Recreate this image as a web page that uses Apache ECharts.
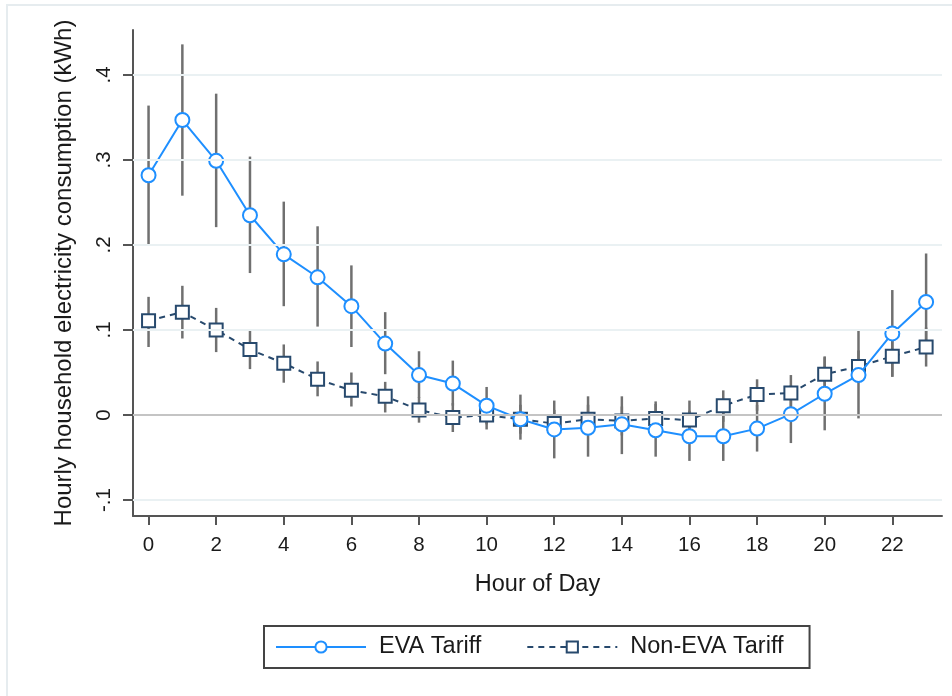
<!DOCTYPE html>
<html>
<head>
<meta charset="utf-8">
<title>Hourly household electricity consumption</title>
<script src="https://cdn.jsdelivr.net/npm/echarts@6/dist/echarts.min.js"></script>
<style>
  html, body { margin: 0; padding: 0; background: #fff; }
  #chart { width: 952px; height: 696px; }
</style>
</head>
<body>
<div id="chart"></div>
<script>
// Hour of day
const hours = [0, 1, 2, 3, 4, 5, 6, 7, 8, 9, 10, 11, 12, 13, 14, 15, 16, 17, 18, 19, 20, 21, 22, 23];

// EVA Tariff: point estimates and confidence bounds (kWh)
const evaMean = [0.282, 0.347, 0.299, 0.235, 0.189, 0.162, 0.128, 0.084, 0.047, 0.037, 0.011, -0.005,
                 -0.017, -0.015, -0.011, -0.018, -0.025, -0.025, -0.016, 0.001, 0.025, 0.047, 0.096, 0.133];
const evaLow  = [0.201, 0.258, 0.221, 0.167, 0.128, 0.104, 0.080, 0.048, 0.020, 0.011, -0.011, -0.029,
                 -0.051, -0.049, -0.046, -0.049, -0.054, -0.054, -0.043, -0.033, -0.018, -0.004, 0.045, 0.077];
const evaHigh = [0.364, 0.436, 0.378, 0.304, 0.251, 0.222, 0.176, 0.121, 0.075, 0.064, 0.033, 0.024,
                 0.017, 0.022, 0.022, 0.016, 0.005, 0.005, 0.012, 0.035, 0.068, 0.099, 0.147, 0.190];

// Non-EVA Tariff: point estimates and confidence bounds (kWh)
const nonMean = [0.111, 0.121, 0.100, 0.077, 0.061, 0.042, 0.029, 0.022, 0.006, -0.003, 0.000, -0.005,
                 -0.010, -0.005, -0.007, -0.004, -0.006, 0.011, 0.024, 0.026, 0.048, 0.057, 0.069, 0.080];
const nonLow  = [0.080, 0.090, 0.074, 0.054, 0.038, 0.022, 0.010, 0.003, -0.009, -0.020, -0.017, -0.022,
                 -0.026, -0.022, -0.024, -0.021, -0.026, -0.008, 0.005, 0.004, 0.027, 0.038, 0.045, 0.057];
const nonHigh = [0.139, 0.152, 0.126, 0.101, 0.083, 0.063, 0.050, 0.039, 0.021, 0.014, 0.017, 0.012,
                 0.006, 0.012, 0.010, 0.013, 0.017, 0.029, 0.042, 0.047, 0.069, 0.076, 0.090, 0.103];

// Axis ticks and labels
const xTicks = [0, 2, 4, 6, 8, 10, 12, 14, 16, 18, 20, 22];
const yTicks = [-0.1, 0, 0.1, 0.2, 0.3, 0.4];
const yTickLabels = ['-.1', '0', '.1', '.2', '.3', '.4'];
const gridValues = [-0.1, 0.1, 0.2, 0.3, 0.4];

const seriesNames = ['EVA Tariff', 'Non-EVA Tariff'];
const xTitle = 'Hour of Day';
const yTitle = 'Hourly household electricity consumption (kWh)';

const FONT = '"Liberation Sans", Arial, sans-serif';
const TEXT = '#1a1a1a';
const EVA_COLOR = '#1e8fff';
const NON_COLOR = '#27496d';
const BAR_COLOR = '#707070';

function ciData(low, high) {
  return hours.map((h, i) => [h, low[i], high[i]]);
}

function renderCI(params, api) {
  const top = api.coord([api.value(0), api.value(2)]);
  const bot = api.coord([api.value(0), api.value(1)]);
  return {
    type: 'line',
    shape: { x1: top[0], y1: top[1], x2: bot[0], y2: bot[1] },
    style: { stroke: BAR_COLOR, lineWidth: 2.5 }
  };
}

const chart = echarts.init(document.getElementById('chart'), null, { renderer: 'canvas' });

chart.setOption({
  animation: false,
  backgroundColor: '#ffffff',
  textStyle: { fontFamily: FONT },
  graphic: [{
    type: 'rect',
    silent: true,
    z: -10,
    shape: { x: 7, y: 5, width: 980, height: 720 },
    style: { fill: 'none', stroke: '#e6ecef', lineWidth: 2 }
  }],
  grid: { left: 133, right: 10, top: 30, bottom: 180, containLabel: false },
  xAxis: {
    type: 'value',
    min: -0.46,
    max: 23.47,
    name: xTitle,
    nameLocation: 'middle',
    nameGap: 57,
    nameTextStyle: { fontSize: 23.5, color: TEXT, fontFamily: FONT },
    axisLine: { show: true, onZero: false, lineStyle: { color: '#555', width: 2 } },
    axisTick: { show: true, length: 9, customValues: xTicks, lineStyle: { color: '#555', width: 2 } },
    axisLabel: { customValues: xTicks, fontSize: 20.5, color: TEXT, margin: 19, fontFamily: FONT },
    splitLine: { show: false }
  },
  yAxis: {
    type: 'value',
    min: -0.1188,
    max: 0.4529,
    name: yTitle,
    nameLocation: 'middle',
    nameRotate: 90,
    nameGap: 57,
    nameTextStyle: { fontSize: 24, color: TEXT, fontFamily: FONT },
    axisLine: { show: true, onZero: false, lineStyle: { color: '#555', width: 2 } },
    axisTick: { show: true, length: 10, customValues: yTicks, lineStyle: { color: '#555', width: 2 } },
    axisLabel: {
      customValues: yTicks,
      rotate: 90,
      fontSize: 20.5,
      color: TEXT,
      margin: 18,
      fontFamily: FONT,
      formatter: function (v) {
        const i = yTicks.findIndex(t => Math.abs(t - v) < 1e-9);
        return i >= 0 ? yTickLabels[i] : '';
      }
    },
    splitLine: { show: false }
  },
  legend: {
    data: seriesNames,
    left: 264,
    top: 626,
    orient: 'horizontal',
    padding: [9, 26, 9, 11],
    borderColor: '#444',
    borderWidth: 2,
    itemWidth: 90,
    itemHeight: 14,
    itemGap: 45,
    textStyle: { fontSize: 23.5, color: TEXT, fontFamily: FONT, padding: [0, 0, 0, 8] }
  },
  series: [
    {
      // reference lines across the plot
      type: 'line',
      data: [],
      silent: true,
      z: 1,
      markLine: {
        silent: true,
        symbol: 'none',
        label: { show: false },
        animation: false,
        data: gridValues.map(v => ({ yAxis: v, lineStyle: { color: '#eaf1f3', width: 2, type: 'solid' } }))
          .concat([{ yAxis: 0, lineStyle: { color: '#c4c4c4', width: 2, type: 'solid' } }])
      }
    },
    {
      name: 'EVA CI',
      type: 'custom',
      renderItem: renderCI,
      data: ciData(evaLow, evaHigh),
      encode: { x: 0, y: [1, 2] },
      silent: true,
      z: 2
    },
    {
      name: 'Non-EVA CI',
      type: 'custom',
      renderItem: renderCI,
      data: ciData(nonLow, nonHigh),
      encode: { x: 0, y: [1, 2] },
      silent: true,
      z: 2
    },
    {
      name: seriesNames[1],
      type: 'line',
      data: hours.map((h, i) => [h, nonMean[i]]),
      symbol: 'rect',
      symbolSize: 13,
      showAllSymbol: true,
      color: NON_COLOR,
      lineStyle: { color: NON_COLOR, width: 2, type: [6, 5] },
      itemStyle: { color: '#ffffff', borderColor: NON_COLOR, borderWidth: 2 },
      z: 3
    },
    {
      name: seriesNames[0],
      type: 'line',
      data: hours.map((h, i) => [h, evaMean[i]]),
      symbol: 'circle',
      symbolSize: 14,
      showAllSymbol: true,
      color: EVA_COLOR,
      lineStyle: { color: EVA_COLOR, width: 2 },
      itemStyle: { color: '#ffffff', borderColor: EVA_COLOR, borderWidth: 2 },
      z: 4
    }
  ]
});
</script>
</body>
</html>
